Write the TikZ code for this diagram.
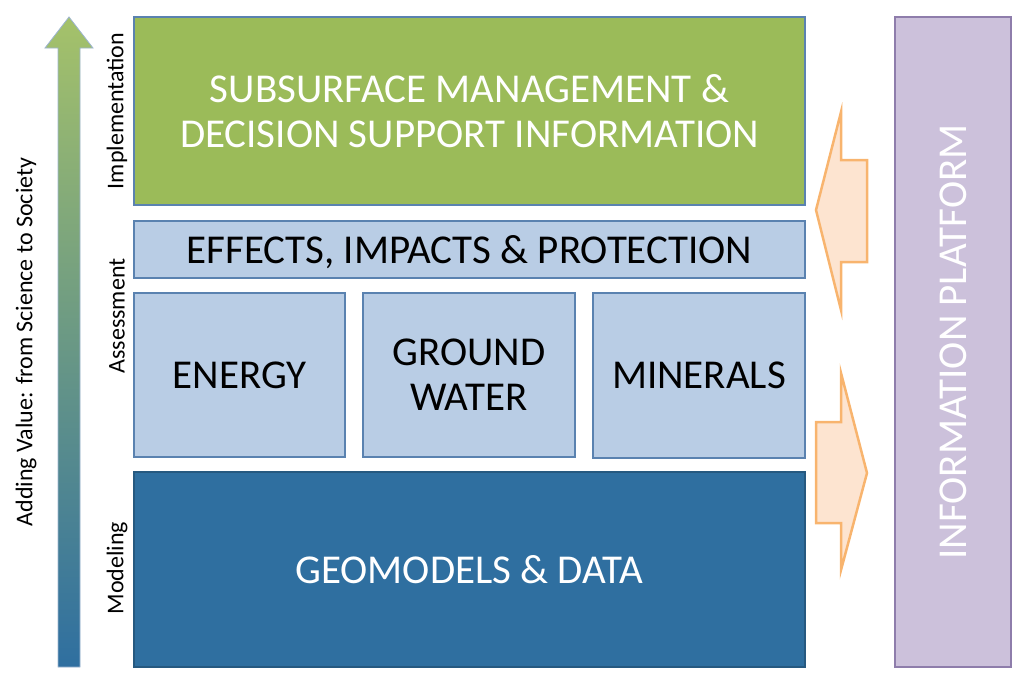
\documentclass[tikz,border=0pt]{standalone}
\usepackage{fontspec}
\setmainfont{Carlito}
\definecolor{impgreen}{HTML}{9BBB59}
\definecolor{asslight}{HTML}{B9CDE5}
\definecolor{moddark}{HTML}{2F6FA0}
\definecolor{boxline}{HTML}{5A82B0}
\definecolor{platfill}{HTML}{CCC1DB}
\definecolor{platline}{HTML}{8E7DAB}
\definecolor{peach}{HTML}{FDE4D0}
\definecolor{peachline}{HTML}{F8B46E}
\begin{document}
\begin{tikzpicture}[x=1pt,y=-1pt,
    layer/.style={draw=boxline,line width=2.5pt,inner sep=0pt,align=center,text depth=0pt},
    sidelabel/.style={rotate=90,font=\fontsize{24}{24}\selectfont},
    flowarrow/.style={fill=peach,draw=peachline,line width=2.5pt,line join=miter}]
            \useasboundingbox (0,0) rectangle (1024,683);

            % value arrow on the left
            \shade[top color=impgreen!90!white,bottom color=moddark,draw=boxline!60,line width=0.8pt]
                (58,667) -- (58,48) -- (45,48) -- (69,17) -- (93,48) -- (80,48) -- (80,667) -- cycle;
            \node[sidelabel] (value) at (26,342) {Adding Value: from Science to Society};

            % layers
            \node[layer,fill=impgreen,text=white,minimum width=671pt,minimum height=188pt,
                font=\fontsize{41}{45}\selectfont] (decision) at (469.5,111)
                {SUBSURFACE MANAGEMENT \&\\DECISION SUPPORT INFORMATION};
            \node[layer,fill=asslight,minimum width=671pt,minimum height=57pt,
                font=\fontsize{41}{41}\selectfont] (effects) at (469.5,249.5)
                {EFFECTS, IMPACTS \& PROTECTION};
            \node[layer,fill=asslight,minimum width=211pt,minimum height=164pt,
                font=\fontsize{41}{45}\selectfont] (energy) at (239.5,375) {ENERGY};
            \node[layer,fill=asslight,minimum width=212pt,minimum height=164pt,
                font=\fontsize{41}{45}\selectfont] (water) at (469,375) {GROUND\\WATER};
            \node[layer,fill=asslight,minimum width=212pt,minimum height=165pt,
                font=\fontsize{41}{45}\selectfont] (minerals) at (699,375.5) {MINERALS};
            \node[layer,fill=moddark,draw=moddark!80!black,text=white,minimum width=671pt,minimum height=195pt,
                font=\fontsize{41}{45}\selectfont] (geo) at (469.5,569.5) {GEOMODELS \& DATA};

            \node[sidelabel] (impl) at (117,111) {Implementation};
            \node[sidelabel] (assess) at (117,316) {Assessment};
            \node[sidelabel] (model) at (117,568) {Modeling};

            % information platform
            \node[draw=platline,fill=platfill,line width=2.5pt,minimum width=116pt,minimum height=650pt] (platform) at (953,342) {};
            \node[rotate=90,text=white,font=\fontsize{41}{41}\selectfont] (platlabel) at (platform.center) {INFORMATION PLATFORM};

            % exchange arrows
            \draw[flowarrow] (816,210) -- (841,112) -- (841,160) -- (867,160) -- (867,262) -- (841,262) -- (841,310) -- cycle;
            \draw[flowarrow] (867,473) -- (841,373) -- (841,422) -- (816,422) -- (816,523) -- (841,523) -- (841,570) -- cycle;
\end{tikzpicture}
\end{document}
